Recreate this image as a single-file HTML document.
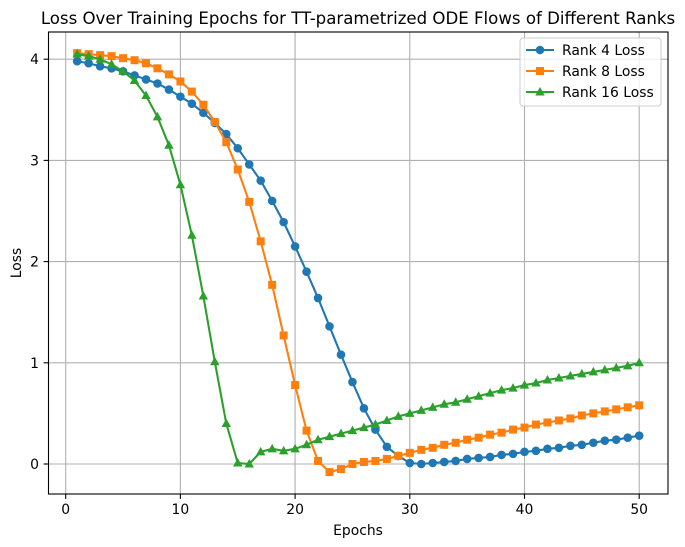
<!DOCTYPE html>
<html><head><meta charset="utf-8"><style>
body{margin:0;background:#fff}
svg{display:block;font-family:"DejaVu Sans","Liberation Sans",sans-serif}
</style></head><body>
<svg id="chart" width="685" height="547" viewBox="0 0 685 547" xmlns="http://www.w3.org/2000/svg">
<rect width="685" height="547" fill="#fff"/>
<text x="358" y="24" font-size="16.6" text-anchor="middle">Loss Over Training Epochs for TT-parametrized ODE Flows of Different Ranks</text>
<g id="grid"></g><g id="series"></g><g id="axes"></g>
<text x="358" y="535" font-size="13.9" text-anchor="middle">Epochs</text>
<text transform="translate(21,263) rotate(-90)" font-size="13.9" text-anchor="middle">Loss</text>
<g id="legend"></g>
</svg>
<script>
const epochs=[];for(let i=1;i<=50;i++)epochs.push(i);
const rank4=[3.98,3.96,3.93,3.91,3.88,3.84,3.80,3.76,3.70,3.63,3.56,3.47,3.37,3.26,3.12,2.96,2.80,2.60,2.39,2.15,1.90,1.64,1.36,1.08,0.81,0.55,0.34,0.17,0.08,0.01,0.00,0.01,0.02,0.03,0.05,0.06,0.07,0.09,0.10,0.12,0.13,0.15,0.16,0.18,0.19,0.21,0.23,0.24,0.26,0.28];
const rank8=[4.06,4.05,4.04,4.03,4.01,3.99,3.96,3.91,3.85,3.78,3.68,3.55,3.38,3.18,2.91,2.59,2.20,1.77,1.27,0.78,0.33,0.03,-0.08,-0.05,0.00,0.02,0.03,0.05,0.08,0.11,0.14,0.16,0.19,0.21,0.24,0.26,0.29,0.31,0.34,0.36,0.39,0.41,0.43,0.45,0.48,0.50,0.52,0.54,0.56,0.58];
const rank16=[4.05,4.03,4.00,3.95,3.88,3.79,3.64,3.43,3.15,2.76,2.26,1.66,1.01,0.40,0.01,0.00,0.12,0.15,0.13,0.15,0.19,0.24,0.27,0.30,0.33,0.36,0.39,0.43,0.47,0.50,0.53,0.56,0.59,0.61,0.64,0.67,0.70,0.73,0.75,0.78,0.80,0.83,0.85,0.87,0.89,0.91,0.93,0.95,0.97,1.00];
const xTicks=[0,10,20,30,40,50];
const yTicks=[0,1,2,3,4];
const L=48.5,R=668,T=32,B=494;
const X=v=>65.7+v*11.47;
const Y=v=>464-v*101.2;
const NS="http://www.w3.org/2000/svg";
function mk(tag,attrs,parent){const e=document.createElementNS(NS,tag);for(const k in attrs)e.setAttribute(k,attrs[k]);parent.appendChild(e);return e;}
const grid=document.getElementById('grid'),axes=document.getElementById('axes'),ser=document.getElementById('series'),leg=document.getElementById('legend');
xTicks.forEach(t=>{
 const g=mk('line',{x1:X(t),x2:X(t),y1:T,y2:B,stroke:'#b0b0b0','stroke-width':1.1},grid);
 
 const k=mk('line',{x1:X(t),x2:X(t),y1:B,y2:B+4.9,stroke:'#000','stroke-width':1.1},axes);
 
 const tx=mk('text',{x:X(t),y:B+20,'font-size':13.9,'text-anchor':'middle'},axes);tx.textContent=t;
 
});
yTicks.forEach(t=>{
 const g=mk('line',{x1:L,x2:R,y1:Y(t),y2:Y(t),stroke:'#b0b0b0','stroke-width':1.1},grid);
 
 const k=mk('line',{x1:L-4.9,x2:L,y1:Y(t),y2:Y(t),stroke:'#000','stroke-width':1.1},axes);
 
 const tx=mk('text',{x:L-9.5,y:Y(t)+5,'font-size':13.9,'text-anchor':'end'},axes);tx.textContent=t;
 
});
const fr=mk('rect',{x:L,y:T,width:R-L,height:B-T,fill:'none',stroke:'#000','stroke-width':1.1},axes);

function marker(type,cx,cy,c,p){
 let e;
 if(type==='o')e=mk('circle',{cx,cy,r:4.3,fill:c},p);
 else if(type==='s')e=mk('rect',{x:cx-4,y:cy-4,width:8,height:8,fill:c},p);
 else e=mk('polygon',{points:`${cx},${cy-5} ${cx-4.7},${cy+3.5} ${cx+4.7},${cy+3.5}`,fill:c},p);
 return e;
}
const series=[[rank4,'#1f77b4','o','Rank 4 Loss','rank-4'],[rank8,'#ff7f0e','s','Rank 8 Loss','rank-8'],[rank16,'#2ca02c','^','Rank 16 Loss','rank-16']];
series.forEach(([d,c,m,label,nm])=>{
 const g=mk('g',{},ser);
 const pl=mk('polyline',{points:d.map((v,i)=>X(epochs[i])+','+Y(v)).join(' '),fill:'none',stroke:c,'stroke-width':2.1},g);
 
 d.forEach((v,i)=>{const e=marker(m,X(epochs[i]),Y(v),c,g);
  });
});
const lb=mk('rect',{x:520,y:38,width:141,height:68,rx:3,fill:'#fff','fill-opacity':0.8,stroke:'#ccc'},leg);

series.forEach(([d,c,m,label,nm],i)=>{
 const y=50+i*21;
 const g=mk('g',{},leg);
 mk('line',{x1:526,x2:554,y1:y,y2:y,stroke:c,'stroke-width':2.1},g);
 marker(m,540,y,c,g);
 const t=mk('text',{x:562,y:y+5,'font-size':13.9},g);t.textContent=label;
});
</script>
</body></html>
